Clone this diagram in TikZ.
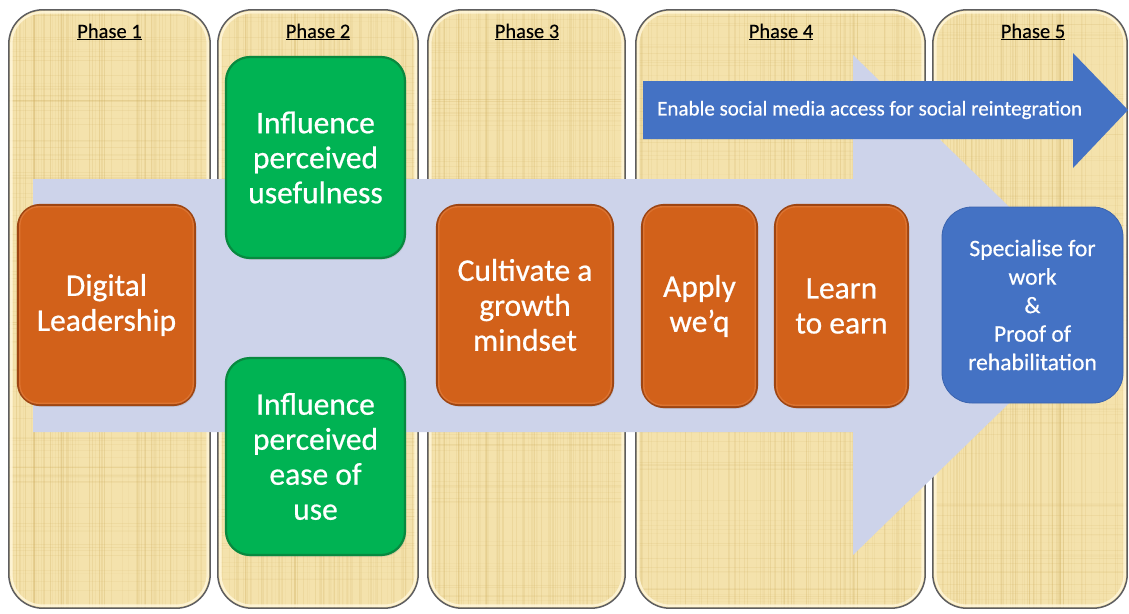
\documentclass[tikz,border=0pt]{standalone}
\usepackage{fontspec}
\setmainfont{Carlito}
\usetikzlibrary{shadows}

\definecolor{paper}{HTML}{F4E2AC}
\definecolor{fibre}{HTML}{CFAE5E}
\definecolor{frame}{HTML}{5E5E60}
\definecolor{frameglow}{HTML}{FFF6DA}
\definecolor{lav}{HTML}{CDD3EA}
\definecolor{orng}{HTML}{D2611A}
\definecolor{orngrim}{HTML}{9E4512}
\definecolor{orngglow}{HTML}{E27A38}
\definecolor{grn}{HTML}{00B353}
\definecolor{grnrim}{HTML}{08893F}
\definecolor{blu}{HTML}{4472C4}
\definecolor{blurim}{HTML}{3A63AE}

\tikzset{
  colbox/.style={minimum height=598pt, inner sep=0pt},
  phaselbl/.style={anchor=base, text=black,
    font=\fontsize{20.5}{24}\selectfont\addfontfeature{FakeBold=0.2}},
  stagebox/.style={align=center, text=white, inner sep=4pt,
    font=\fontsize{31.5}{35}\selectfont\addfontfeature{FakeBold=0.6},
    drop shadow={opacity=0.22, shadow xshift=1.2pt, shadow yshift=-1.8pt}},
  obox/.style={stagebox, fill=orng, draw=orngrim, line width=2.2pt, rounded corners=22pt},
  gbox/.style={stagebox, fill=grn, draw=grnrim, line width=2.2pt, rounded corners=24pt},
  bbox/.style={align=center, text=white, fill=blu, draw=blurim, line width=0.8pt,
    rounded corners=30pt, font=\fontsize{23.6}{28.5}\selectfont\addfontfeature{FakeBold=0.5}},
}

\begin{document}
\begin{tikzpicture}[x=1pt, y=-1pt]
\useasboundingbox (0,0) rectangle (1129,613);
\pgfmathsetseed{7}

% papyrus phase columns
\foreach \n/\cx/\w/\xa/\xb in {1/109.5/201/9/210, 2/318/200/218/418,
    3/526.5/197/428/625, 4/780.5/289/636/925, 5/1030/194/933/1127} {
  \node[colbox, minimum width=\w pt] (col\n) at (\cx,309) {};
  \begin{scope}
    \clip[rounded corners=34pt] (col\n.north west) rectangle (col\n.south east);
    \fill[paper] (col\n.north west) rectangle (col\n.south east);
    \foreach \k in {1,...,90} {
      \pgfmathsetmacro\xx{\xa+rnd*(\xb-\xa)}
      \pgfmathsetmacro\ww{0.3+1.0*rnd}
      \pgfmathsetmacro\oo{0.05+0.16*rnd}
      \draw[fibre, line width=\ww pt, opacity=\oo] (\xx,10) -- (\xx,608);
    }
    \foreach \k in {1,...,110} {
      \pgfmathsetmacro\yy{10+rnd*598}
      \pgfmathsetmacro\ww{0.3+0.9*rnd}
      \pgfmathsetmacro\oo{0.04+0.12*rnd}
      \draw[fibre, line width=\ww pt, opacity=\oo] (\xa,\yy) -- (\xb,\yy);
    }
  \end{scope}
  \draw[frameglow, line width=2.4pt, opacity=0.85, rounded corners=31pt]
    ([shift={(2.6,2.6)}]col\n.north west) rectangle ([shift={(-2.6,-2.6)}]col\n.south east);
  \draw[frame, line width=1.5pt, rounded corners=34pt]
    (col\n.north west) rectangle (col\n.south east);
}

% phase headings
\node[phaselbl] (ph1) at (109.5,38) {\underline{Phase 1}};
\node[phaselbl] (ph2) at (318,38) {\underline{Phase 2}};
\node[phaselbl] (ph3) at (527,38) {\underline{Phase 3}};
\node[phaselbl] (ph4) at (781,38) {\underline{Phase 4}};
\node[phaselbl] (ph5) at (1033,38) {\underline{Phase 5}};

% broad background arrow through all phases
\fill[lav] (33,179) -- (853,179) -- (853,55) -- (1110,305) -- (853,555)
  -- (853,432) -- (33,432) -- cycle;

% social media arrow
\fill[blu] (643,81) -- (1073,81) -- (1073,53) -- (1128,110) -- (1073,168)
  -- (1073,139) -- (643,139) -- cycle;
\node[anchor=west, text=white, inner sep=0pt,
  font=\fontsize{21}{24}\selectfont\addfontfeature{FakeBold=0.4}]
  (social) at (657,110) {Enable social media access for social reintegration};

% stage boxes
\node[obox, minimum width=177pt, minimum height=200pt] (lead) at (106.5,305)
  {Digital\\Leadership};
\node[gbox, minimum width=179pt, minimum height=201pt] (useful) at (315.5,157.5)
  {Influence\\perceived\\usefulness};
\node[gbox, minimum width=179pt, minimum height=197pt] (ease) at (315.5,456.5)
  {Influence\\perceived\\ease of\\use};
\node[obox, minimum width=176pt, minimum height=200pt] (growth) at (525,305)
  {Cultivate a\\growth\\mindset};
\node[obox, minimum width=115pt, minimum height=202pt] (apply) at (699.5,306)
  {Apply\\we’q};
\node[obox, minimum width=133pt, minimum height=202pt] (learn) at (841.5,306)
  {Learn\\to earn};
\node[bbox, minimum width=181pt, minimum height=196pt] (spec) at (1032.5,305)
  {Specialise for\\work\\\&\\Proof of\\rehabilitation};

% soft top highlight on the orange stage boxes
\foreach \b in {lead, growth, apply, learn} {
  \draw[orngglow, line width=1.4pt, opacity=0.8, rounded corners=19pt]
    ([shift={(2.8,2.8)}]\b.north west) rectangle ([shift={(-2.8,-2.8)}]\b.south east);
}
\end{tikzpicture}
\end{document}
